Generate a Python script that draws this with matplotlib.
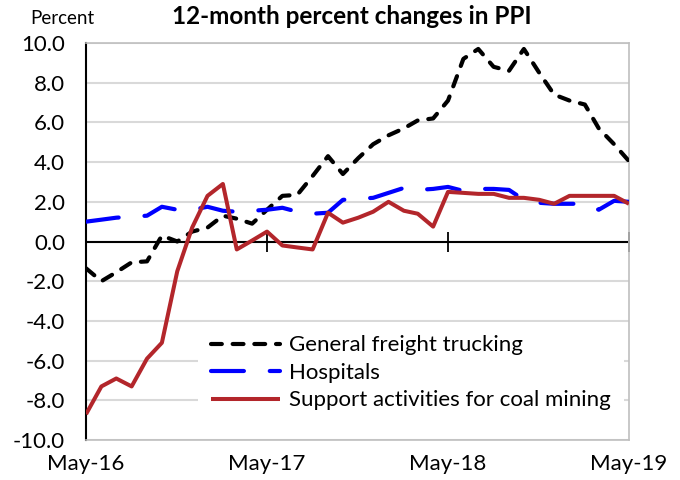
import numpy as np
import pandas as pd
import matplotlib
matplotlib.use("Agg")
import matplotlib.pyplot as plt
import matplotlib.dates as mdates

plt.rcParams['font.family'] = ['Lato', 'DejaVu Sans']

# Monthly 12-month percent changes, May 2016 - May 2019
months = pd.date_range('2016-05-01', periods=37, freq='MS')

trucking = [-1.35, -2.0, -1.55, -1.05, -1.0, 0.3, 0.0, 0.5, 0.7, 1.3, 1.15, 0.9,
            1.6, 2.3, 2.35, 3.3, 4.3, 3.4, 4.2, 4.9, 5.35, 5.7, 6.1, 6.2,
            7.1, 9.2, 9.7, 8.8, 8.6, 9.7, 8.5, 7.4, 7.1, 6.9, 5.7, 4.9, 4.05]
hospitals = [1.0, 1.1, 1.2, 1.25, 1.3, 1.75, 1.6, 1.6, 1.75, 1.55, 1.5, 1.55,
             1.6, 1.7, 1.5, 1.4, 1.45, 2.1, 2.15, 2.2, 2.45, 2.7, 2.6, 2.65,
             2.75, 2.55, 2.65, 2.65, 2.6, 2.1, 1.95, 1.9, 1.9, 1.9, 1.6, 2.05, 2.0]
coal_support = [-8.7, -7.3, -6.9, -7.3, -5.9, -5.1, -1.5, 0.7, 2.3, 2.9, -0.4, 0.05,
                0.5, -0.2, -0.3, -0.4, 1.45, 0.95, 1.2, 1.5, 2.0, 1.55, 1.4, 0.75,
                2.5, 2.45, 2.4, 2.4, 2.2, 2.2, 2.1, 1.9, 2.3, 2.3, 2.3, 2.3, 1.9]

series_names = ['General freight trucking', 'Hospitals', 'Support activities for coal mining']
y_ticks = np.arange(-10, 10.1, 2)
year_marks = months[::12]

fig = plt.figure(figsize=(6.8, 4.8), dpi=100)
ax = fig.add_axes([0.1265, 0.0833, 0.7985, 0.8271])

ax.plot(months, trucking, color='black', lw=3, dashes=(2.6, 2.6),
        dash_capstyle='round', label=series_names[0], zorder=3)
ax.plot(months, hospitals, color='#0000ff', lw=3, dashes=(7.9, 6.2),
        dash_capstyle='round', label=series_names[1], zorder=3)
ax.plot(months, coal_support, color='#b3262b', lw=2.9, solid_capstyle='butt',
        label=series_names[2], zorder=4)

# zero line with tick marks crossing it at each May
ax.axhline(0, color='black', lw=1.5, zorder=2)
ax.plot(year_marks, np.zeros(len(year_marks)), ls='none', marker='|', ms=14,
        mew=1.3, color='black', zorder=2, clip_on=False)

ax.set_xlim(months[0], months[-1])
ax.set_ylim(-10, 10)
ax.set_yticks(y_ticks)
ax.set_yticklabels([f'{v:.1f}' for v in y_ticks])
ax.yaxis.grid(True, color='#d9d9d9', lw=1.5)
ax.set_axisbelow(True)

ax.set_xticks(year_marks)
ax.xaxis.set_major_formatter(mdates.DateFormatter('%b-%y'))
ax.tick_params(axis='both', length=0, labelsize=16)
ax.tick_params(axis='y', pad=15)
ax.tick_params(axis='x', pad=10)

for side in ['top', 'right', 'bottom']:
    ax.spines[side].set_color('#bfbfbf')
    ax.spines[side].set_linewidth(1.2)
ax.spines['left'].set_color('black')
ax.spines['left'].set_linewidth(1.5)

leg = ax.legend(loc='upper left', bbox_to_anchor=(0.206, 0.297), frameon=True,
                fontsize=16, handlelength=3.1, handletextpad=0.4,
                labelspacing=0.335, borderpad=0.6, borderaxespad=0)
leg.get_frame().set_edgecolor('none')
leg.get_frame().set_facecolor('white')
leg.get_frame().set_alpha(1)
leg.set_zorder(5)

fig.text(0.044, 0.962, 'Percent', fontsize=13.5, ha='left', va='center')
fig.text(0.518, 0.965, '12-month percent changes in PPI', fontsize=17.5,
         fontweight='bold', ha='center', va='center')

fig.savefig('out.png', dpi=100)
